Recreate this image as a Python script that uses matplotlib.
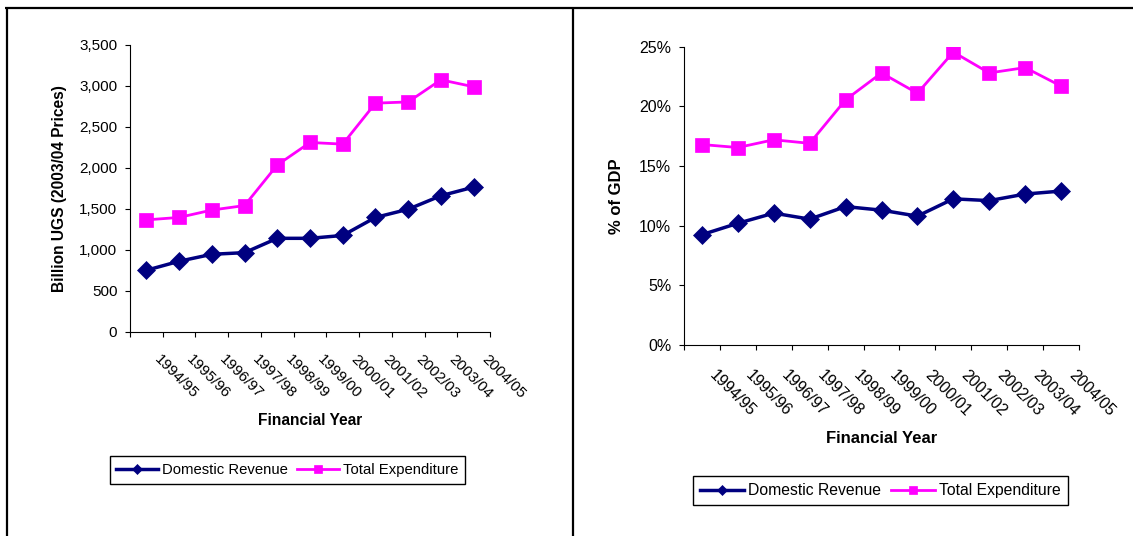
import matplotlib
matplotlib.use("Agg")
import matplotlib.pyplot as plt
import matplotlib.transforms as mtransforms
from matplotlib.ticker import FuncFormatter, MultipleLocator
from matplotlib.lines import Line2D

plt.rcParams['font.family'] = ['Liberation Sans', 'DejaVu Sans']

# Financial years shown on the x axis
years = ["1994/95", "1995/96", "1996/97", "1997/98", "1998/99", "1999/00",
         "2000/01", "2001/02", "2002/03", "2003/04", "2004/05"]

# Billion UGS at 2003/04 prices
revenue_bn = [750, 860, 945, 965, 1140, 1140, 1175, 1395, 1495, 1660, 1765]
expenditure_bn = [1365, 1395, 1485, 1540, 2035, 2310, 2290, 2790, 2805, 3075, 2990]

# Share of GDP, percent
revenue_pct = [9.25, 10.2, 11.05, 10.55, 11.6, 11.3, 10.8, 12.25, 12.1, 12.65, 12.9]
expenditure_pct = [16.8, 16.55, 17.2, 16.9, 20.55, 22.8, 21.1, 24.55, 22.8, 23.25, 21.7]

NAVY = "#000080"
MAGENTA = "#FF00FF"
W, H = 1133, 536

fig = plt.figure(figsize=(W / 100, H / 100), dpi=100)


def px_rect(x0, x1, ytop, ybot):
    return [x0 / W, 1 - ybot / H, (x1 - x0) / W, (ybot - ytop) / H]


def draw_panel(rect, rev, exp, ymax, ystep, yfmt, ylabel, fs_tick, fs_label,
               xlabel_y, ylabel_x, xpad, dx):
    ax = fig.add_axes(rect)
    n = len(years)
    xs = [i + 0.5 for i in range(n)]
    ax.plot(xs, rev, color=NAVY, lw=2.5, marker="D", ms=9, mew=0.5,
            mec=NAVY, mfc=NAVY, label="Domestic Revenue", zorder=3)
    ax.plot(xs, exp, color=MAGENTA, lw=2.0, marker="s", ms=10, mew=0.5,
            mec=MAGENTA, mfc=MAGENTA, label="Total Expenditure", zorder=3)

    ax.set_xlim(0, n)
    ax.set_ylim(0, ymax)
    ax.yaxis.set_major_locator(MultipleLocator(ystep))
    ax.yaxis.set_major_formatter(FuncFormatter(yfmt))

    ax.set_xticks(range(n + 1))
    ax.set_xticklabels([])
    ax.set_xticks(xs, years, minor=True)
    ax.tick_params(axis="x", which="major", direction="out", length=3.6,
                   width=0.8, color="black")
    ax.tick_params(axis="x", which="minor", length=0, pad=xpad,
                   labelsize=fs_tick)
    ax.tick_params(axis="y", direction="out", length=3.6, width=0.8,
                   pad=5.5, labelsize=fs_tick, color="black")

    offset = mtransforms.ScaledTranslation(dx / 100, 0, fig.dpi_scale_trans)
    for lab in ax.get_xticklabels(minor=True):
        lab.set_rotation(-45)
        lab.set_ha("left")
        lab.set_va("center")
        lab.set_rotation_mode("anchor")
        lab.set_transform(lab.get_transform() + offset)

    for side in ("top", "right"):
        ax.spines[side].set_visible(False)
    for side in ("left", "bottom"):
        ax.spines[side].set_linewidth(0.8)
        ax.spines[side].set_color("black")

    ax.set_xlabel("Financial Year", fontsize=fs_label, fontweight="bold",
                  va="center")
    ax.xaxis.set_label_coords(0.5, xlabel_y)
    ax.set_ylabel(ylabel, fontsize=fs_label, fontweight="bold", va="center")
    ax.yaxis.set_label_coords(ylabel_x, 0.5)
    return ax


axL = draw_panel(px_rect(130, 490, 45, 331.7), revenue_bn, expenditure_bn,
                 3500, 500, lambda v, p: f"{v:,.0f}",
                 "Billion UGS (2003/04 Prices)", 11, 11.2,
                 xlabel_y=-0.31, ylabel_x=-0.195, xpad=18.5, dx=10)
axR = draw_panel(px_rect(684, 1079, 46.7, 345), revenue_pct, expenditure_pct,
                 25, 5, lambda v, p: f"{v:.0f}%",
                 "% of GDP", 11.5, 12,
                 xlabel_y=-0.314, ylabel_x=-0.17, xpad=20, dx=10)


def add_legend(ax, center_px, fs):
    handles, labels = ax.get_legend_handles_labels()
    fig.legend(handles, labels, loc="center",
               bbox_to_anchor=(center_px[0] / W, 1 - center_px[1] / H),
               ncol=2, fontsize=fs, frameon=True, fancybox=False,
               edgecolor="black", framealpha=1, markerscale=0.55,
               handlelength=2.8, handletextpad=0.3, columnspacing=0.6,
               borderpad=0.45, borderaxespad=0)


add_legend(axL, (287.5, 470), 10.7)
add_legend(axR, (880.5, 490.5), 11.3)

# Outer frame and divider between the two panels
frame_kw = dict(color="black", lw=1.6, transform=fig.transFigure,
                solid_capstyle="butt")
fig.add_artist(Line2D([5 / W, 1], [1 - 7.5 / H] * 2, **frame_kw))
fig.add_artist(Line2D([6.5 / W] * 2, [0, 1 - 6.5 / H], **frame_kw))
fig.add_artist(Line2D([573 / W] * 2, [0, 1 - 6.5 / H], **frame_kw))

fig.savefig("out.png", dpi=100, facecolor="white")
